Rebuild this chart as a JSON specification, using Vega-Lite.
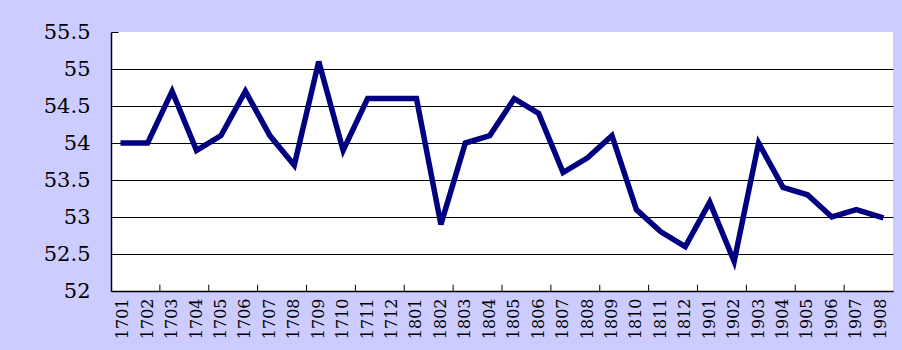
{
  "$schema": "https://vega.github.io/schema/vega-lite/v6.json",
  "autosize": "none",
  "width": 782,
  "height": 259,
  "padding": {"left": 111, "top": 32, "right": 9, "bottom": 59},
  "background": "#CCCCFF",
  "config": {"view": {"fill": "white", "stroke": null}},
  "data": {"values": [
    {"year": "1701", "value": 54.0},
    {"year": "1702", "value": 54.0},
    {"year": "1703", "value": 54.7},
    {"year": "1704", "value": 53.9},
    {"year": "1705", "value": 54.1},
    {"year": "1706", "value": 54.7},
    {"year": "1707", "value": 54.1},
    {"year": "1708", "value": 53.7},
    {"year": "1709", "value": 55.1},
    {"year": "1710", "value": 53.9},
    {"year": "1711", "value": 54.6},
    {"year": "1712", "value": 54.6},
    {"year": "1801", "value": 54.6},
    {"year": "1802", "value": 52.9},
    {"year": "1803", "value": 54.0},
    {"year": "1804", "value": 54.1},
    {"year": "1805", "value": 54.6},
    {"year": "1806", "value": 54.4},
    {"year": "1807", "value": 53.6},
    {"year": "1808", "value": 53.8},
    {"year": "1809", "value": 54.1},
    {"year": "1810", "value": 53.1},
    {"year": "1811", "value": 52.8},
    {"year": "1812", "value": 52.6},
    {"year": "1901", "value": 53.2},
    {"year": "1902", "value": 52.4},
    {"year": "1903", "value": 54.0},
    {"year": "1904", "value": 53.4},
    {"year": "1905", "value": 53.3},
    {"year": "1906", "value": 53.0},
    {"year": "1907", "value": 53.1},
    {"year": "1908", "value": 53.0}
  ]},
  "encoding": {
    "x": {
      "field": "year", "type": "ordinal",
      "scale": {"type": "band", "paddingInner": 0, "paddingOuter": 0},
      "axis": {
        "title": null,
        "labelAngle": -90,
        "labelAlign": "right",
        "labelBaseline": "middle",
        "labelFont": "DejaVu Serif",
        "labelFontSize": 16,
        "labelColor": "black",
        "labelPadding": 7,
        "ticks": false,
        "domainColor": "black",
        "domainWidth": 1.5,
        "grid": false
      }
    }
  },
  "layer": [
    {
      "transform": [{"filter": "toNumber(datum.year) % 2 == 1 && datum.year != '1701'"}],
      "mark": {"type": "rule", "color": "black", "strokeWidth": 1},
      "encoding": {
        "x": {"field": "year", "type": "ordinal", "bandPosition": 0},
        "y": {
          "datum": 52, "type": "quantitative",
          "scale": {"domain": [52, 55.5], "nice": false, "zero": false},
          "axis": {
            "title": null,
            "values": [52, 52.5, 53, 53.5, 54, 54.5, 55, 55.5],
            "labelExpr": "'' + datum.value",
            "labelFont": "DejaVu Serif",
            "labelFontSize": 21,
            "labelColor": "black",
            "labelPadding": 28,
            "tickSize": -7,
            "tickColor": "black",
            "domainColor": "black",
            "domainWidth": 1.5,
            "grid": true,
            "gridColor": "black",
            "gridOpacity": {"condition": {"test": "datum.value > 55.4", "value": 0}, "value": 1}
          }
        },
        "y2": {"datum": 52.085}
      }
    },
    {
      "mark": {"type": "line", "color": "#000080", "strokeWidth": 5.5, "strokeJoin": "miter", "strokeCap": "square"},
      "encoding": {
        "x": {"field": "year", "type": "ordinal", "bandPosition": 0.5},
        "y": {
          "field": "value", "type": "quantitative",
          "scale": {"domain": [52, 55.5], "nice": false, "zero": false},
          "axis": {
            "title": null,
            "values": [52, 52.5, 53, 53.5, 54, 54.5, 55, 55.5],
            "labelExpr": "'' + datum.value",
            "labelFont": "DejaVu Serif",
            "labelFontSize": 21,
            "labelColor": "black",
            "labelPadding": 28,
            "tickSize": -7,
            "tickColor": "black",
            "domainColor": "black",
            "domainWidth": 1.5,
            "grid": true,
            "gridColor": "black",
            "gridOpacity": {"condition": {"test": "datum.value > 55.4", "value": 0}, "value": 1}
          }
        }
      }
    }
  ]
}
